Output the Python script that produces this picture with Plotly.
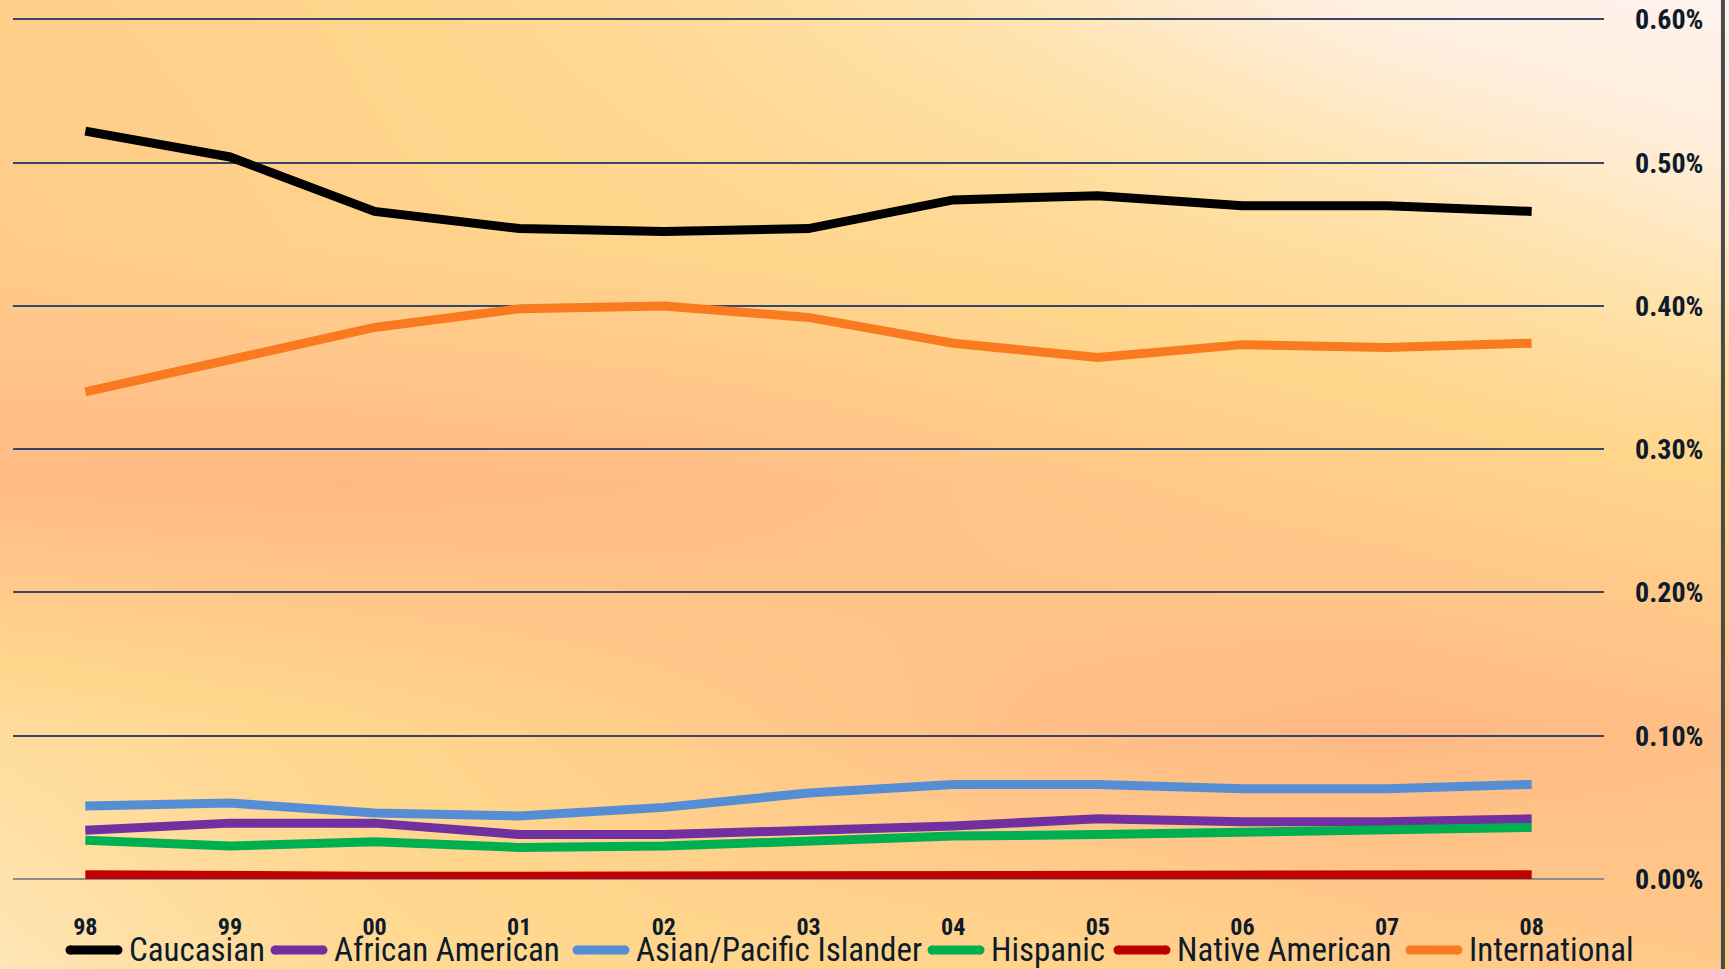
import plotly.graph_objects as go

# ---------------- data ----------------
years = ["98", "99", "00", "01", "02", "03", "04", "05", "06", "07", "08"]

caucasian = [0.522, 0.504, 0.466, 0.454, 0.452, 0.454, 0.474, 0.477, 0.470, 0.470, 0.466]
african_american = [0.034, 0.039, 0.039, 0.031, 0.031, 0.034, 0.037, 0.042, 0.040, 0.040, 0.042]
asian_pacific = [0.051, 0.053, 0.046, 0.044, 0.050, 0.060, 0.066, 0.066, 0.063, 0.063, 0.066]
hispanic = [0.027, 0.023, 0.026, 0.022, 0.023, 0.026, 0.030, 0.031, 0.033, 0.034, 0.036]
native_american = [0.003, 0.002, 0.002, 0.002, 0.002, 0.002, 0.003, 0.003, 0.003, 0.003, 0.003]
international = [0.340, 0.363, 0.385, 0.398, 0.400, 0.392, 0.374, 0.364, 0.373, 0.371, 0.374]

series_names = ["Caucasian", "African American", "Asian/Pacific Islander",
                "Hispanic", "Native American", "International"]
series_values = [caucasian, african_american, asian_pacific,
                 hispanic, native_american, international]
series_colors = ["#000000", "#7030A0", "#558ED5", "#00B050", "#C00000", "#F97A1F"]

y_ticks = [0.0, 0.1, 0.2, 0.3, 0.4, 0.5, 0.6]

# background gradient (decorative), colour index on a coarse grid
bg_x = [0, 0.2, 0.4, 0.6, 0.8, 1.0]
bg_y = [0, 0.25, 0.5, 0.75, 1.0]
bg_z = [
    [0.35, 0.55, 0.60, 0.62, 0.70, 0.75],
    [0.50, 0.60, 0.72, 0.85, 0.92, 0.85],
    [0.90, 0.92, 0.88, 0.78, 0.70, 0.62],
    [0.72, 0.65, 0.60, 0.55, 0.45, 0.30],
    [0.68, 0.62, 0.52, 0.35, 0.15, 0.05],
]
bg_scale = [[0.0, "#FFF4F4"], [0.2, "#FFEEDC"], [0.4, "#FFE2AC"],
            [0.6, "#FFD68C"], [0.8, "#FFC488"], [1.0, "#FFB080"]]

FONT = "Liberation Sans Narrow, Arial Narrow, Roboto Condensed, Liberation Sans, sans-serif"

W, H = 1729, 969
plot_left, plot_right = 13, 1604
plot_top, plot_bottom = 18, 879

# legend layout (pixel positions of each entry's symbol start)
legend_sym_x = [66, 271, 573, 928, 1114, 1406]
legend_sym_len = 56
legend_y = 950

fig = go.Figure()

fig.add_trace(go.Heatmap(
    x=bg_x, y=bg_y, z=bg_z, colorscale=bg_scale, zmin=0, zmax=1,
    zsmooth="best", showscale=False, hoverinfo="skip",
    xaxis="x", yaxis="y", showlegend=False,
))

for name, vals, col in zip(series_names, series_values, series_colors):
    fig.add_trace(go.Scatter(
        x=years, y=vals, name=name, mode="lines",
        line=dict(color=col, width=9),
        xaxis="x2", yaxis="y2", showlegend=False,
    ))

# custom legend: thick line swatches + labels
annotations = []
for name, col, sx in zip(series_names, series_colors, legend_sym_x):
    fig.add_trace(go.Scatter(
        x=[(sx + 4) / W, (sx + legend_sym_len - 4) / W],
        y=[1 - legend_y / H, 1 - legend_y / H],
        mode="lines+markers",
        line=dict(color=col, width=9),
        marker=dict(color=col, size=9, line=dict(width=0)),
        xaxis="x", yaxis="y", showlegend=False, hoverinfo="skip",
    ))
    annotations.append(dict(
        x=(sx + legend_sym_len + 6) / W, y=1 - (legend_y - 1) / H,
        xref="paper", yref="paper", xanchor="left", yanchor="middle",
        text=name, showarrow=False, borderpad=0,
        font=dict(family=FONT, size=33, color="#0D1B2A"),
    ))

fig.update_layout(
    width=W, height=H,
    margin=dict(l=0, r=0, t=0, b=0, autoexpand=False),
    paper_bgcolor="#FFE2B0",
    plot_bgcolor="rgba(0,0,0,0)",
    showlegend=False,
    xaxis=dict(domain=[0, 1], range=[0, 1], visible=False, fixedrange=True, automargin=False),
    yaxis=dict(domain=[0, 1], range=[0, 1], visible=False, fixedrange=True, automargin=False),
    xaxis2=dict(
        domain=[plot_left / W, plot_right / W],
        anchor="y2",
        type="category",
        range=[-0.5, 10.5],
        automargin=False,
        showgrid=False, zeroline=False, showline=False,
        ticks="", ticklabelstandoff=31,
        tickfont=dict(family=FONT, size=24, color="#0D1B2A", weight="bold"),
    ),
    yaxis2=dict(
        domain=[1 - plot_bottom / H, 1 - plot_top / H],
        anchor="x2",
        side="right",
        range=[0, 0.601],
        automargin=False,
        tickvals=y_ticks,
        ticktext=[f"{v:.2f}%" for v in y_ticks],
        showgrid=True, gridcolor="#34496A", gridwidth=2,
        zeroline=True, zerolinecolor="#8C8C8C", zerolinewidth=2,
        showline=False, ticks="", ticklabelstandoff=30,
        tickfont=dict(family=FONT, size=28, color="#0D1B2A", weight="bold"),
    ),
    annotations=annotations,
    shapes=[
        dict(type="line", xref="paper", yref="paper", x0=0.9965, x1=0.9965, y0=0, y1=1,
             line=dict(color="#4A4A4A", width=4)),
    ],
)

fig.write_html("out.html")
